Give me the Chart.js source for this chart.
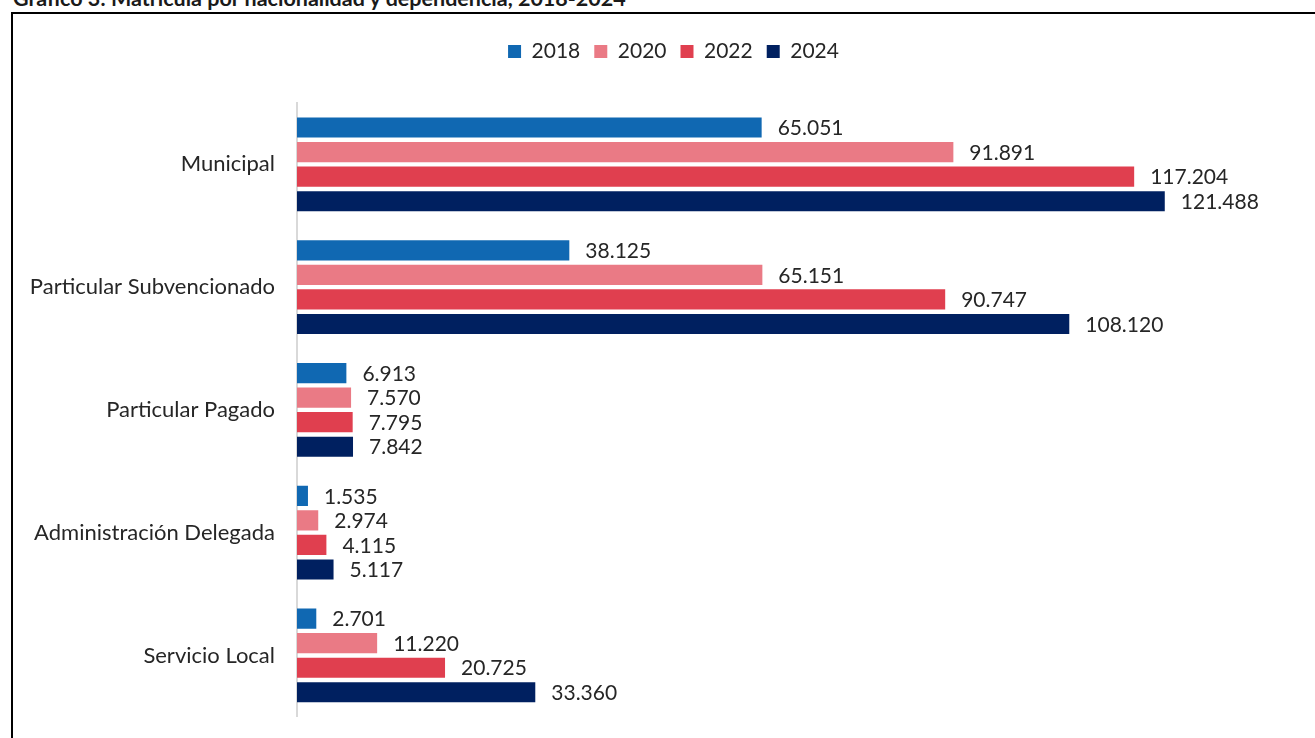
<!DOCTYPE html>
<html lang="es">
<head>
    <meta charset="UTF-8">
    <title>Matrícula por nacionalidad y dependencia, 2018-2024</title>
    <script src="https://cdn.jsdelivr.net/npm/chart.js"></script>
    <style>
        body {
            margin: 0;
            padding: 0;
            background: #fff;
            overflow: hidden;
        }
        .title {
            position: absolute;
            left: 13px;
            top: -15px;
            font-family: Lato, Arial, sans-serif;
            font-weight: bold;
            font-size: 21.5px;
            color: #1a1a1a;
            white-space: nowrap;
        }
        .frame {
            position: absolute;
            left: 11px;
            top: 12px;
            width: 1320px;
            height: 740px;
            border-left: 2px solid #000;
            border-top: 2px solid #000;
            box-sizing: border-box;
        }
        /* a bit taller than the window: the bottom tick label reserves ~27px */
        .wrap {
            position: absolute;
            left: 0;
            top: 0;
            width: 1315px;
            height: 744px;
        }
    </style>
</head>
<body>
    <div class="title">Gráfico 3: Matrícula por nacionalidad y dependencia, 2018-2024</div>
    <div class="frame"></div>
    <div class="wrap"><canvas id="chart"></canvas></div>
    <script>
        // categories and series
        const categories = ['Municipal', 'Particular Subvencionado', 'Particular Pagado', 'Administración Delegada', 'Servicio Local'];
        const years = ['2018', '2020', '2022', '2024'];
        const values2018 = [65051, 38125, 6913, 1535, 2701];
        const values2020 = [91891, 65151, 7570, 2974, 11220];
        const values2022 = [117204, 90747, 7795, 4115, 20725];
        const values2024 = [121488, 108120, 7842, 5117, 33360];
        const colors = ['#1068b2', '#ea7a85', '#e03f4f', '#002060'];

        const fontFamily = 'Lato, Arial, sans-serif';

        function fmt(n) {
            return String(n).replace(/\B(?=(\d{3})+(?!\d))/g, '.');
        }

        // draws the value next to each bar
        const valueLabels = {
            id: 'valueLabels',
            afterDatasetsDraw(chart) {
                const ctx = chart.ctx;
                ctx.save();
                ctx.font = '21px ' + fontFamily;
                ctx.fillStyle = '#262626';
                ctx.textBaseline = 'middle';
                ctx.textAlign = 'left';
                chart.data.datasets.forEach((ds, i) => {
                    chart.getDatasetMeta(i).data.forEach((bar, j) => {
                        ctx.fillText(fmt(ds.data[j]), bar.x + 16, bar.y + 1);
                    });
                });
                ctx.restore();
            }
        };

        // more room under the legend, and nudge it a little to the right
        const legendTweak = {
            id: 'legendTweak',
            beforeInit(chart) {
                const fit = chart.legend.fit;
                chart.legend.fit = function () {
                    fit.call(this);
                    this.height = 76;
                };
            },
            afterLayout(chart) {
                chart.legend.left += 25;
                chart.legend.right += 25;
            }
        };

        const seriesValues = [values2018, values2020, values2022, values2024];

        new Chart(document.getElementById('chart').getContext('2d'), {
            type: 'bar',
            data: {
                labels: categories,
                datasets: years.map((y, i) => ({
                    label: y,
                    data: seriesValues[i],
                    backgroundColor: colors[i],
                    categoryPercentage: 0.8,
                    barPercentage: 0.82
                }))
            },
            options: {
                indexAxis: 'y',
                responsive: true,
                maintainAspectRatio: false,
                animation: false,
                layout: {
                    padding: { top: 27, right: 18, bottom: 13, left: 0 }
                },
                plugins: {
                    tooltip: { enabled: false },
                    legend: {
                        position: 'top',
                        labels: {
                            boxWidth: 13,
                            boxHeight: 13,
                            padding: 14,
                            color: '#262626',
                            font: { family: fontFamily, size: 21 }
                        }
                    }
                },
                scales: {
                    x: {
                        display: false,
                        min: 0,
                        max: 140000
                    },
                    y: {
                        afterFit(scale) { scale.width = 297; },
                        grid: { display: false },
                        border: { display: true, color: '#d9d9d9', width: 2 },
                        ticks: {
                            padding: 14,
                            color: '#262626',
                            font: { family: fontFamily, size: 22 }
                        }
                    }
                }
            },
            plugins: [valueLabels, legendTweak]
        });
    </script>
</body>
</html>
